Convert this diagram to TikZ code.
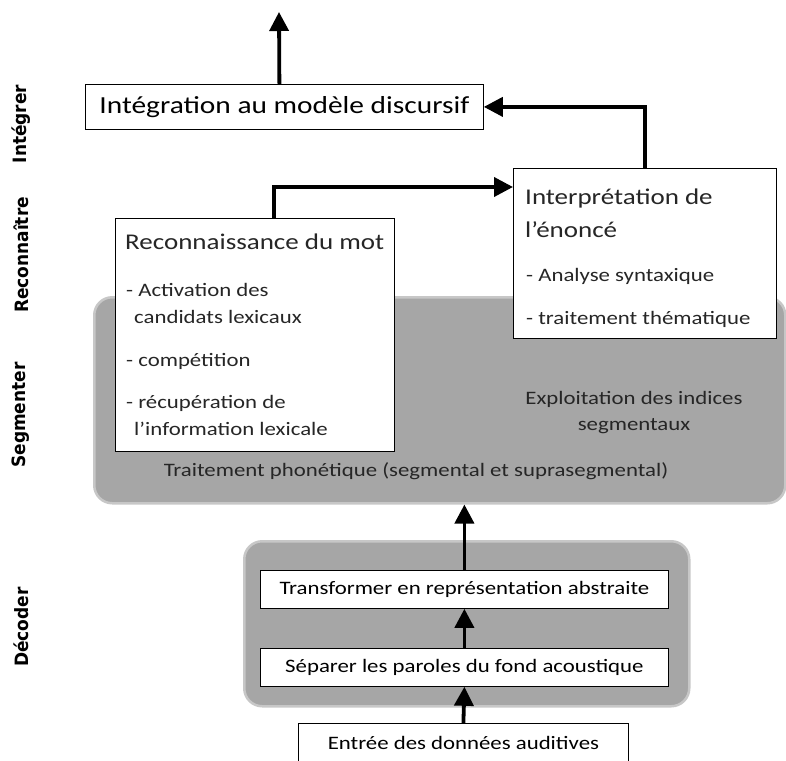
\documentclass[tikz,border=0pt]{standalone}
\usepackage{fontspec}
\setmainfont{Carlito}[FakeStretch=1.2]
\newfontfamily\sidefont{DejaVu Sans}
\usetikzlibrary{arrows.meta,positioning}

\tikzset{
  box/.style={draw=black, fill=white, line width=0.8pt, inner sep=0pt, anchor=north west},
  panel/.style={draw=black!22, line width=2.5pt, fill=black!35, rounded corners=18pt, inner sep=0pt, anchor=north west},
  flow/.style={line width=3.8pt, -{Triangle[width=19pt,length=19pt]}},
  stage/.style={rotate=90, font=\sidefont\bfseries\fontsize{17}{20}\selectfont},
  big/.style={font=\fontsize{24.5}{28}\selectfont},
  title/.style={font=\fontsize{22.5}{26}\selectfont},
  item/.style={font=\fontsize{19}{22}\selectfont, anchor=base west, inner sep=0pt, text=black!85}
}
\newcommand{\tall}[1]{\scalebox{1}[1.08]{#1}}

\begin{document}
\begin{tikzpicture}[x=1pt, y=-1pt]
  \useasboundingbox (0,0) rectangle (786,760);
  % stages
  \node[stage] (lint) at (21,124) {\tall{Intégrer}};
  \node[stage] (lrec) at (21,255) {\tall{Reconnaître}};
  \node[stage] (lseg) at (21,415) {\tall{Segmenter}};
  \node[stage] (ldec) at (21,627) {\tall{Décoder}};
  % grey panels
  \node[panel, minimum width=691, minimum height=206] (seg) at (93,296) {};
  \node[panel, minimum width=445, minimum height=165] (dec) at (243,540) {};
  \node[item, anchor=base] (expl) at (634,404) {Exploitation des indices};
  \node[item, anchor=base] (expl2) at (634,430) {segmentaux};
  \node[item, anchor=base] (phon) at (416,476) {Traitement phonétique (segmental et suprasegmental)};
  % boxes
  \node[box, big, minimum width=398, minimum height=45] (integ) at (85,84) {Intégration au modèle discursif};
  \node[box, minimum width=263, minimum height=170] (interp) at (513,168) {};
  \node[box, minimum width=279, minimum height=233] (recon) at (115,218) {};
  \node[box, font=\fontsize{19}{22}\selectfont, minimum width=408, minimum height=38] (trans) at (260,570) {Transformer en représentation abstraite};
  \node[box, font=\fontsize{19}{22}\selectfont, minimum width=408, minimum height=38] (sep) at (260,648) {Séparer les paroles du fond acoustique};
  \node[box, font=\fontsize{19}{22}\selectfont, minimum width=330, minimum height=40] (entree) at (298,723) {Entrée des données auditives};
  % box texts
  \node[item, title] (t1) at (525,204) {Interprétation de};
  \node[item, title] (t2) at (525,237) {l’énoncé};
  \node[item] (t3) at (526,281) {- Analyse syntaxique};
  \node[item] (t4) at (526,324) {- traitement thématique};
  \node[item, title] (r1) at (125,249) {Reconnaissance du mot};
  \node[item] (r2) at (126,296) {- Activation des};
  \node[item] (r3) at (134,323) {candidats lexicaux};
  \node[item] (r4) at (126,366) {- compétition};
  \node[item] (r5) at (126,408) {- récupération de};
  \node[item] (r6) at (134,435) {l’information lexicale};
  % arrows
  \coordinate (out) at (279,12);
  \draw[flow] ([xshift=-5pt]integ.north) -- (out);
  \draw[flow] (interp.north) |- (integ.east);
  \draw[flow] ([xshift=19pt]recon.north) |- ([yshift=-19pt]interp.north west);
  \draw[flow] (trans.north) -- (trans.north |- seg.south);
  \draw[flow] (sep.north) -- (trans.south);
  \draw[flow] (entree.north) -- (sep.south);
\end{tikzpicture}
\end{document}
